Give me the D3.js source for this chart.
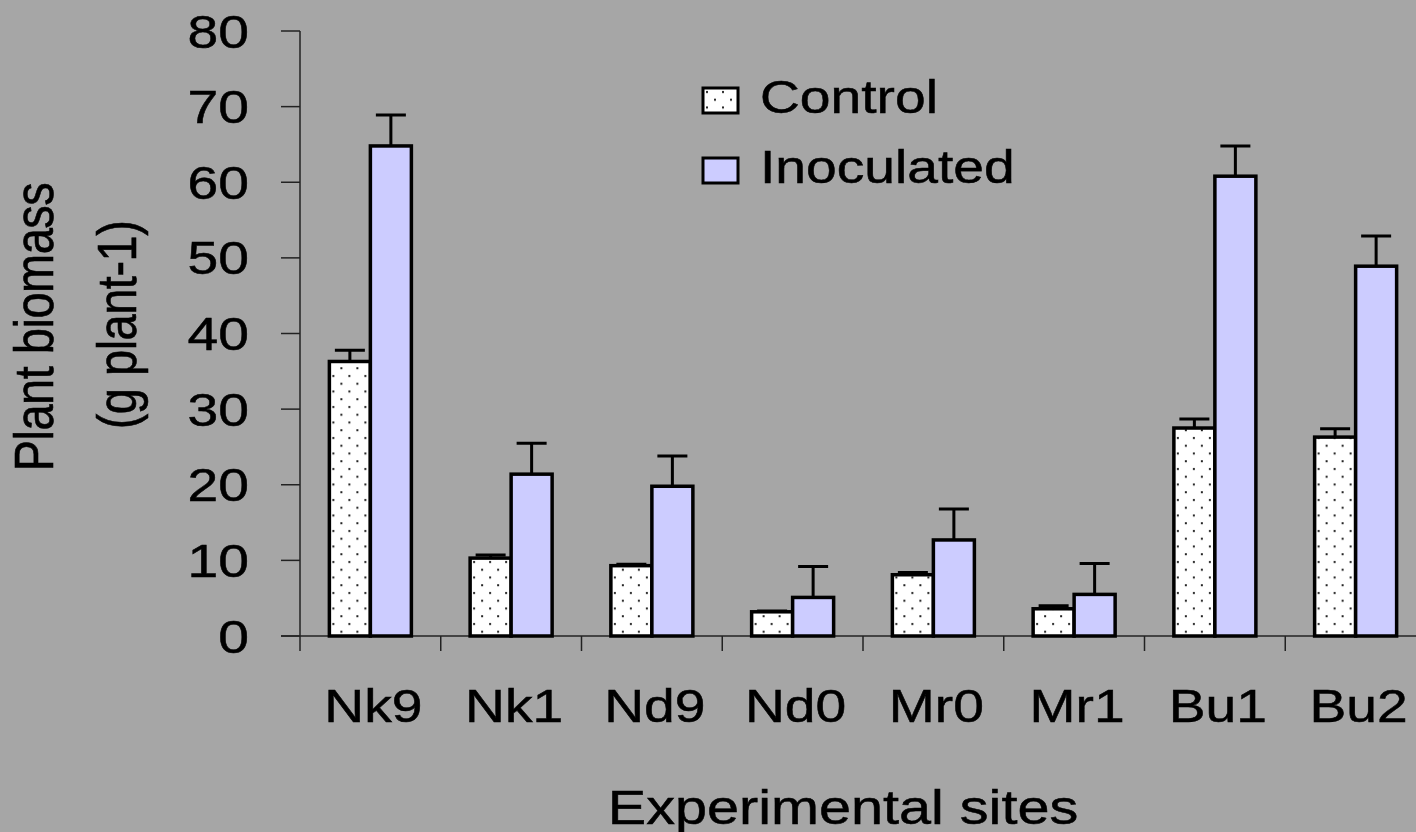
<!DOCTYPE html>
<meta charset="utf-8">
<script src="https://cdn.jsdelivr.net/npm/d3@7"></script>
<style>
  body { margin: 0; background: #a6a6a6; }
  svg { display: block; font-family: "Liberation Sans", Arial, sans-serif; }
  text { fill: #000; stroke: #000; stroke-width: 0.5px; }
</style>
<body>
<script>
// chart data
var sites = ["Nk9", "Nk1", "Nd9", "Nd0", "Mr0", "Mr1", "Bu1", "Bu2"];
var series = ["Control", "Inoculated"];
var control = [36.3, 10.3, 9.3, 3.2, 8.1, 3.6, 27.5, 26.3];
var controlErr = [1.5, 0.4, 0.2, 0.1, 0.3, 0.4, 1.2, 1.1];
var inoculated = [64.8, 21.4, 19.8, 5.1, 12.7, 5.5, 60.8, 48.9];
var inoculatedErr = [4.1, 4.1, 4.0, 4.1, 4.1, 4.1, 4.0, 4.0];
var yTicks = [0, 10, 20, 30, 40, 50, 60, 70, 80];

var width = 1416, height = 832;
var plotLeft = 300, plotRight = 1426, plotTop = 31, plotBottom = 636;
var stretch = 1.2; // the original glyphs are wider than tall

var svg = d3.select("body").append("svg")
    .attr("width", width)
    .attr("height", height);

svg.append("rect").attr("width", width).attr("height", height).attr("fill", "#a6a6a6");

// dotted fill for control bars
var pat = svg.append("defs").append("pattern")
    .attr("id", "dots")
    .attr("patternUnits", "userSpaceOnUse")
    .attr("width", 16).attr("height", 15.5);
pat.append("rect").attr("width", 16).attr("height", 15.5).attr("fill", "#fff");
pat.append("rect").attr("x", 3).attr("y", 3).attr("width", 2).attr("height", 2).attr("fill", "#222");
pat.append("rect").attr("x", 11).attr("y", 10.75).attr("width", 2).attr("height", 2).attr("fill", "#222");

var x = d3.scaleBand().domain(sites).range([plotLeft, plotRight]);
var xs = d3.scaleBand().domain(series).range([0, 82]);
var y = d3.scaleLinear().domain([0, 80]).range([plotBottom, plotTop]);

var groupOffset = (x.bandwidth() - 82) / 2;
var fills = { Control: "url(#dots)", Inoculated: "#ccccff" };

var rows = sites.map(function(s, i) {
    return [
        { site: s, key: "Control", v: control[i], e: controlErr[i] },
        { site: s, key: "Inoculated", v: inoculated[i], e: inoculatedErr[i] }
    ];
});

// axes
var yAxis = svg.append("g");
yAxis.append("line").attr("x1", plotLeft).attr("x2", plotLeft).attr("y1", plotTop).attr("y2", plotBottom)
    .attr("stroke", "#222").attr("stroke-width", 1.5);
yAxis.selectAll(".tick").data(yTicks).enter().append("line")
    .attr("x1", plotLeft - 19).attr("x2", plotLeft)
    .attr("y1", function(d) { return y(d); }).attr("y2", function(d) { return y(d); })
    .attr("stroke", "#222").attr("stroke-width", 1.5);
yAxis.selectAll(".lab").data(yTicks).enter().append("text")
    .attr("transform", function(d) { return "translate(249," + y(d) + ") scale(" + stretch + ",1)"; })
    .attr("dy", "0.36em")
    .attr("text-anchor", "end")
    .attr("font-size", 46)
    .text(function(d) { return d; });

var xAxis = svg.append("g");
xAxis.append("line").attr("x1", plotLeft - 19).attr("x2", width).attr("y1", plotBottom).attr("y2", plotBottom)
    .attr("stroke", "#222").attr("stroke-width", 1.5);
xAxis.selectAll(".tick").data(sites).enter().append("line")
    .attr("x1", function(d) { return x(d); }).attr("x2", function(d) { return x(d); })
    .attr("y1", plotBottom).attr("y2", plotBottom + 15)
    .attr("stroke", "#222").attr("stroke-width", 1.5);
xAxis.selectAll(".lab").data(sites).enter().append("text")
    .attr("transform", function(d) { return "translate(" + (x(d) + x.bandwidth() / 2 + 3) + ",722) scale(" + stretch + ",1)"; })
    .attr("text-anchor", "middle")
    .attr("font-size", 46)
    .text(function(d) { return d; });

// bars
var groups = svg.selectAll(".site").data(rows).enter().append("g")
    .attr("transform", function(d) { return "translate(" + (x(d[0].site) + groupOffset) + ",0)"; });

groups.selectAll(".err").data(function(d) { return d; }).enter().append("path")
    .attr("d", function(d) {
        var cx = xs(d.key) + xs.bandwidth() / 2, yt = y(d.v + d.e);
        return "M" + cx + "," + y(d.v) + "V" + yt + "M" + (cx - 15) + "," + yt + "H" + (cx + 15);
    })
    .attr("stroke", "#000").attr("stroke-width", 3).attr("fill", "none");

groups.selectAll("rect").data(function(d) { return d; }).enter().append("rect")
    .attr("x", function(d) { return xs(d.key); })
    .attr("y", function(d) { return y(d.v); })
    .attr("width", xs.bandwidth())
    .attr("height", function(d) { return plotBottom - y(d.v); })
    .attr("fill", function(d) { return fills[d.key]; })
    .attr("stroke", "#000").attr("stroke-width", 3.5);

// legend
var legend = svg.selectAll(".legend").data(series).enter().append("g")
    .attr("transform", function(d, i) { return "translate(703," + (88 + i * 70) + ")"; });
legend.append("rect").attr("width", 35).attr("height", 25)
    .attr("fill", function(d) { return fills[d]; })
    .attr("stroke", "#000").attr("stroke-width", 3);
legend.append("text")
    .attr("transform", "translate(57,25) scale(" + stretch + ",1)")
    .attr("font-size", 46)
    .text(function(d) { return d; });

// axis titles
svg.append("text")
    .attr("transform", "translate(843,824) scale(" + stretch + ",1)")
    .attr("text-anchor", "middle")
    .attr("font-size", 48)
    .text("Experimental sites");

svg.append("text")
    .attr("transform", "translate(53,327) scale(" + stretch + ",1) rotate(-90)")
    .attr("text-anchor", "middle")
    .attr("font-size", 47)
    .attr("letter-spacing", -0.5)
    .text("Plant biomass");
svg.append("text")
    .attr("transform", "translate(136,325) scale(" + stretch + ",1) rotate(-90)")
    .attr("text-anchor", "middle")
    .attr("font-size", 47)
    .attr("letter-spacing", -0.5)
    .text("(g plant-1)");
</script>
</body>
